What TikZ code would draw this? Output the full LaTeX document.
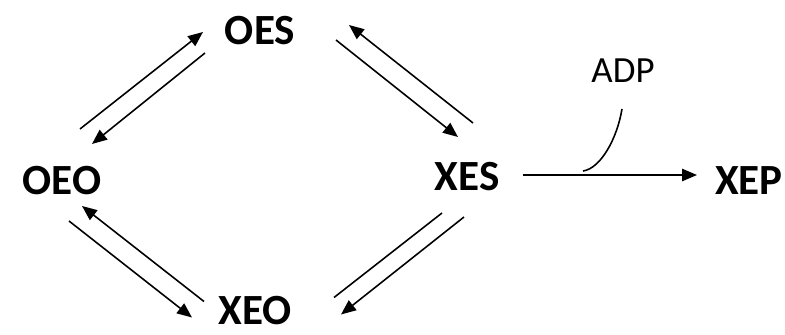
\documentclass[tikz,border=0pt]{standalone}
\usepackage{fontspec}
\setmainfont{Carlito}
\usepackage{tikz}
\usetikzlibrary{arrows.meta, calc}

\begin{document}
\begin{tikzpicture}[
    every node/.style={inner sep=0pt, outer sep=0pt},
    state/.style={font=\fontsize{24.5}{26}\selectfont\bfseries},
    lbl/.style={font=\fontsize{21}{23}\selectfont},
    arrow/.style={-{Triangle[length=8.5pt, width=7pt]}, line width=0.9pt, draw=black},
    plain/.style={line width=0.9pt, draw=black}
]
\useasboundingbox (0,0) rectangle (15.7,6.7);

% === States ===
\node[state] (OES) at (5.20, 6.09) {OES};
\node[state] (OEO) at (1.24, 3.08) {OEO};
\node[state] (XES) at (9.34, 3.16) {XES};
\node[state] (XEO) at (5.10, 0.49) {XEO};
\node[state] (XEP) at (14.98, 3.08) {XEP};
\node[lbl]   (ADP) at (12.46, 5.28) {ADP};

% === OEO <-> OES ===
\draw[arrow] ([shift={(0.36,1.04)}]OEO.center) -- ([shift={(-1.14,-0.03)}]OES.center);
\draw[arrow] ([shift={(-1.10,-0.45)}]OES.center) -- ([shift={(0.60,0.74)}]OEO.center);

% === OES <-> XES ===
\draw[arrow] ([shift={(1.52,-0.19)}]OES.center) -- ([shift={(-0.18,0.80)}]XES.center);
\draw[arrow] ([shift={(0.12,1.08)}]XES.center) -- ([shift={(1.78,0.11)}]OES.center);

% === OEO <-> XEO ===
\draw[arrow] ([shift={(0.14,-0.80)}]OEO.center) -- ([shift={(-1.26,-0.14)}]XEO.center);
\draw[arrow] ([shift={(-1.02,0.18)}]XEO.center) -- ([shift={(0.40,-0.50)}]OEO.center);

% === XES <-> XEO ===
\draw[plain] ([shift={(-0.50,-0.72)}]XES.center) -- ([shift={(1.58,0.26)}]XEO.center);
\draw[arrow] ([shift={(-0.06,-0.80)}]XES.center) -- ([shift={(1.72,-0.08)}]XEO.center);

% === XES -> XEP with ADP ===
\coordinate (join) at ([shift={(2.32,0.12)}]XES.center);
\draw[arrow] ([shift={(1.12,0.04)}]XES.center) -- ([shift={(-1.04,0.12)}]XEP.center);
\draw[plain] ([shift={(-0.02,-0.76)}]ADP.center) .. controls +(-0.1,-0.6) and +(0.35,0.05) .. (join);

\end{tikzpicture}
\end{document}
